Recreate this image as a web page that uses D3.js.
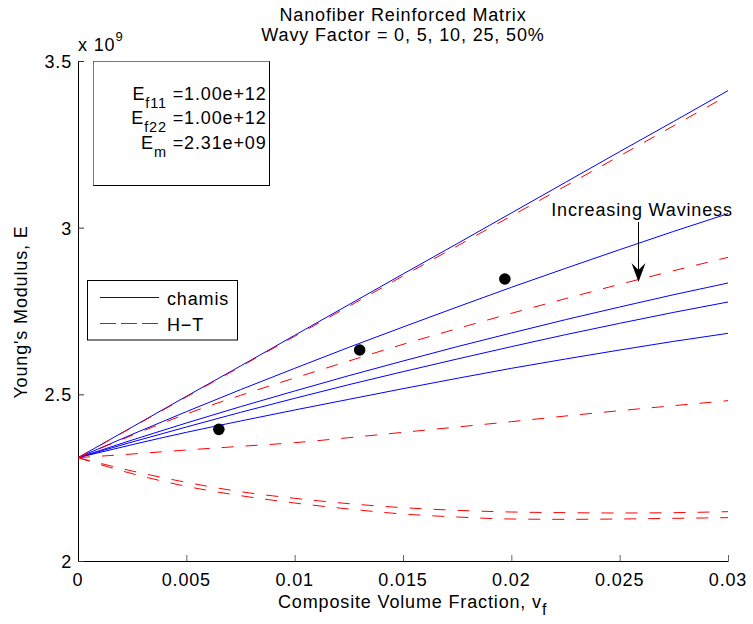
<!DOCTYPE html>
<html>
<head>
<meta charset="utf-8">
<script src="https://d3js.org/d3.v7.min.js"></script>
<style>
  html, body { margin: 0; padding: 0; background: #fff; }
  svg { display: block; }
  text { font-family: "Liberation Sans", Arial, Helvetica, sans-serif; fill: #000; }
</style>
</head>
<body>
<svg id="chart" width="753" height="624"></svg>
<script>
// Volume fraction samples (x axis)
const volumeFraction = [0, 0.0025, 0.005, 0.0075, 0.01, 0.0125, 0.015, 0.0175, 0.02, 0.0225, 0.025, 0.0275, 0.03];

// Young's modulus, in units of 1e9, for the Chamis model at each wavy factor
const chamis0  = [2.310, 2.402, 2.494, 2.585, 2.677, 2.769, 2.861, 2.952, 3.044, 3.136, 3.228, 3.319, 3.411];
const chamis5  = [2.310, 2.380, 2.448, 2.514, 2.578, 2.641, 2.702, 2.762, 2.821, 2.878, 2.934, 2.989, 3.042];
const chamis10 = [2.310, 2.363, 2.414, 2.463, 2.510, 2.556, 2.600, 2.643, 2.684, 2.724, 2.762, 2.799, 2.834];
const chamis25 = [2.310, 2.357, 2.402, 2.446, 2.488, 2.529, 2.568, 2.606, 2.643, 2.679, 2.713, 2.746, 2.777];
const chamis50 = [2.310, 2.349, 2.386, 2.420, 2.453, 2.485, 2.517, 2.548, 2.578, 2.606, 2.633, 2.659, 2.683];

// Young's modulus, in units of 1e9, for the Halpin-Tsai model at each wavy factor
const ht0  = [2.310, 2.401, 2.492, 2.583, 2.674, 2.764, 2.855, 2.945, 3.035, 3.125, 3.215, 3.306, 3.397];
const ht5  = [2.310, 2.377, 2.441, 2.497, 2.549, 2.600, 2.650, 2.697, 2.743, 2.787, 2.830, 2.871, 2.911];
const ht10 = [2.310, 2.321, 2.333, 2.344, 2.355, 2.370, 2.386, 2.402, 2.418, 2.435, 2.451, 2.466, 2.481];
const ht25 = [2.310, 2.270, 2.236, 2.208, 2.188, 2.172, 2.160, 2.152, 2.147, 2.145, 2.144, 2.145, 2.148];
const ht50 = [2.310, 2.262, 2.224, 2.196, 2.174, 2.156, 2.141, 2.132, 2.126, 2.125, 2.126, 2.128, 2.130];

// Experimental measurements
const expFraction = [0.0065, 0.0130, 0.0197];
const expModulus  = [2.395, 2.633, 2.846];

// Axis ticks
const xTicks = [0, 0.005, 0.01, 0.015, 0.02, 0.025, 0.03];
const xTickLabels = ["0", "0.005", "0.01", "0.015", "0.02", "0.025", "0.03"];
const yTicks = [2, 2.5, 3, 3.5];
const yTickLabels = ["2", "2.5", "3", "3.5"];

// Text content
const titleLines = ["Nanofiber Reinforced Matrix", "Wavy Factor = 0, 5, 10, 25, 50%"];
const legendLabels = ["chamis", "H\u2212T"];
const propertyRows = [
  { sub: "f11", value: "1.00e+12" },
  { sub: "f22", value: "1.00e+12" },
  { sub: "m",   value: "2.31e+09" }
];

const chamisSeries = [chamis0, chamis5, chamis10, chamis25, chamis50];
const htSeries = [ht0, ht5, ht10, ht25, ht50];

const BLUE = "#0000ff", RED = "#ff0000";
const LS = "0.85px";

const svg = d3.select("#chart");
const plotLeft = 78, plotRight = 728, plotTop = 61, plotBottom = 561;

const x = d3.scaleLinear().domain([0, 0.03]).range([plotLeft, plotRight]);
const y = d3.scaleLinear().domain([2, 3.5]).range([plotBottom, plotTop]);

// Title
svg.append("g").selectAll("text").data(titleLines).join("text")
  .attr("x", (plotLeft + plotRight) / 2)
  .attr("y", (d, i) => 21 + i * 20)
  .attr("text-anchor", "middle")
  .attr("font-size", 18)
  .attr("letter-spacing", LS)
  .text(d => d);

// Axes (inward ticks, no box)
const xAxis = d3.axisBottom(x).tickValues(xTicks).tickSize(-6).tickFormat("").tickSizeOuter(0);
const gx = svg.append("g").attr("transform", `translate(0,${plotBottom})`).call(xAxis);
gx.select(".domain").attr("stroke", "#000");
gx.selectAll(".tick line").attr("stroke", "#666");

const yAxis = d3.axisLeft(y).tickValues(yTicks).tickSize(-6).tickFormat("").tickSizeOuter(0);
const gy = svg.append("g").attr("transform", `translate(${plotLeft},0)`).call(yAxis);
gy.select(".domain").attr("stroke", "#000");
gy.selectAll(".tick line").attr("stroke", "#333");

// Tick labels
svg.append("g").selectAll("text").data(xTicks).join("text")
  .attr("x", d => x(d)).attr("y", plotBottom + 25)
  .attr("text-anchor", "middle").attr("font-size", 18).attr("letter-spacing", LS)
  .text((d, i) => xTickLabels[i]);

svg.append("g").selectAll("text").data(yTicks).join("text")
  .attr("x", plotLeft - 6).attr("y", d => y(d) + 7)
  .attr("text-anchor", "end").attr("font-size", 18).attr("letter-spacing", LS)
  .text((d, i) => yTickLabels[i]);

// Exponent label
const expo = svg.append("text").attr("x", plotLeft).attr("y", 51).attr("font-size", 18).attr("letter-spacing", LS);
expo.append("tspan").text("x 10");
expo.append("tspan").attr("font-size", 13).attr("dy", -10).text("9");

// Axis labels
const xl = svg.append("text").attr("x", 278).attr("y", 608).attr("font-size", 18).attr("letter-spacing", LS);
xl.append("tspan").text("Composite Volume Fraction, v");
xl.append("tspan").attr("font-size", 16).attr("dy", 7).text("f");

svg.append("text")
  .attr("transform", `translate(27,${(plotTop + plotBottom) / 2 + 1}) rotate(-90)`)
  .attr("text-anchor", "middle").attr("font-size", 18).attr("letter-spacing", LS)
  .text("Young's Modulus, E");

// Curves
const line = d3.line()
  .x((d, i) => x(volumeFraction[i]))
  .y(d => y(d))
  .curve(d3.curveMonotoneX);

const plot = svg.append("g");
plot.selectAll("path.chamis").data(chamisSeries).join("path")
  .attr("class", "chamis")
  .attr("d", line)
  .attr("fill", "none").attr("stroke", BLUE).attr("stroke-width", 1);

plot.selectAll("path.ht").data(htSeries).join("path")
  .attr("class", "ht")
  .attr("d", line)
  .attr("fill", "none").attr("stroke", RED).attr("stroke-width", 1)
  .attr("stroke-dasharray", "12,12");

// Measured points
plot.selectAll("circle").data(expFraction).join("circle")
  .attr("cx", d => x(d)).attr("cy", (d, i) => y(expModulus[i]))
  .attr("r", 5.8).attr("fill", "#000");

// Material properties box
svg.append("rect").attr("x", 93.5).attr("y", 61.5).attr("width", 176).attr("height", 124)
  .attr("fill", "#fff").attr("stroke", "#000").attr("stroke-width", 1);
svg.append("path").attr("d", "M93.5,185.5V61.5H269.5")
  .attr("fill", "none").attr("stroke", "#777").attr("stroke-width", 1);

const props = svg.append("g");
propertyRows.forEach((row, i) => {
  const t = props.append("text")
    .attr("x", 266.5).attr("y", 99.5 + i * 24.5)
    .attr("text-anchor", "end").attr("font-size", 18).attr("letter-spacing", LS);
  t.append("tspan").text("E");
  t.append("tspan").attr("font-size", 14.5).attr("dy", 8).text(row.sub);
  t.append("tspan").attr("dy", -8).text(" =" + row.value);
});

// Legend
const legend = svg.append("g");
legend.append("rect").attr("x", 87.5).attr("y", 280.5).attr("width", 150).attr("height", 59.5)
  .attr("fill", "#fff").attr("stroke", "#000").attr("stroke-width", 1);
legend.append("line").attr("x1", 100).attr("x2", 159).attr("y1", 297.5).attr("y2", 297.5)
  .attr("stroke", BLUE).attr("stroke-width", 1);
legend.append("line").attr("x1", 100).attr("x2", 159).attr("y1", 323.5).attr("y2", 323.5)
  .attr("stroke", RED).attr("stroke-width", 1).attr("stroke-dasharray", "16,5");
legend.selectAll("text").data(legendLabels).join("text")
  .attr("x", 167).attr("y", (d, i) => 305 + i * 26)
  .attr("font-size", 18).attr("letter-spacing", LS)
  .text(d => d);

// Annotation arrow
const ax = 638.5;
svg.append("text").attr("x", 642).attr("y", 216)
  .attr("text-anchor", "middle").attr("font-size", 18).attr("letter-spacing", LS)
  .text("Increasing Waviness");
svg.append("line").attr("x1", ax).attr("x2", ax).attr("y1", 222).attr("y2", 272)
  .attr("stroke", "#000").attr("stroke-width", 1);
svg.append("path")
  .attr("d", `M${ax},282 L${ax - 7},263 L${ax},270 L${ax + 7},263 Z`)
  .attr("fill", "#000");
</script>
</body>
</html>
